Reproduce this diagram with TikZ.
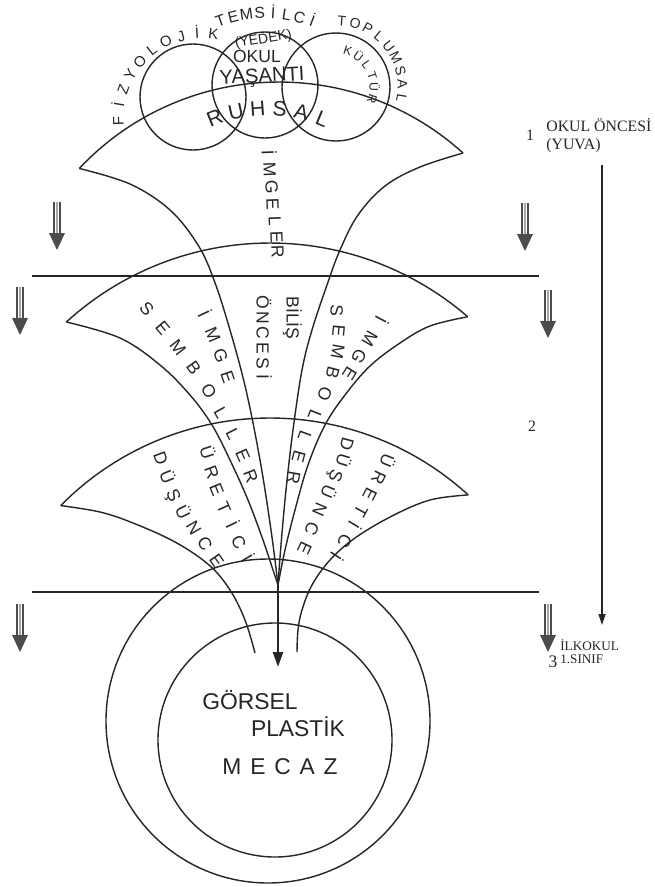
\documentclass[tikz,border=0pt]{standalone}
\usepackage{fontspec}
\setmainfont{Liberation Serif}
\newfontfamily\handfont{Liberation Sans}
\usetikzlibrary{arrows.meta,calc}
\newcommand\arcword[8]{% #1 style, #2 name, #3 cx, #4 cy, #5 R, #6 start, #7 step, #8 letters
  \foreach \ch [count=\i from 0] in {#8}{%
    \pgfmathsetmacro\th{#6+\i*(#7)}%
    \pgfmathsetmacro\rt{-\th-90}%
    \node[#1, rotate=\rt] (#2\i) at ({#3+#5*cos(\th)},{#4+#5*sin(\th)}) {\ch};
  }}
\newcommand\placeletters[3]{% #1 name, #2 style, #3 list x/y/rot/char
  \foreach \px/\py/\pr/\pc [count=\i] in {#3}{%
    \node[#2, rotate=\pr] (#1\i) at (\px,\py) {\pc};
  }}
\newcommand\dblarrow[2]{% #1 x, #2 tip y
  \draw[black!70, line width=0.6pt] (#1-3,#2-48) -- (#1-3,#2-16) (#1+3,#2-48) -- (#1+3,#2-16);
  \draw[black!35, line width=0.6pt] (#1,#2-48) -- (#1,#2-16);
  \fill[black!70] (#1-8,#2-17) -- (#1+8,#2-17) -- (#1,#2) -- cycle;}
\begin{document}
\begin{tikzpicture}[x=0.02cm,y=-0.02cm,
  ln/.style={line width=0.8pt, black!85},
  hand/.style={font=\handfont\fontsize{10}{10}\selectfont, inner sep=0pt, text=black!85, text height=0.72em, text depth=0pt},
  handxs/.style={hand, font=\handfont\fontsize{7}{7}\selectfont},
  handsm/.style={hand, font=\handfont\fontsize{8}{8}\selectfont},
  handfz/.style={hand, font=\handfont\fontsize{8.5}{8.5}\selectfont},
  handmd/.style={hand, font=\handfont\fontsize{9}{9}\selectfont},
  handbig/.style={hand, font=\handfont\fontsize{12}{12}\selectfont},
  handxl/.style={hand, font=\handfont\fontsize{13}{13}\selectfont},
  lab/.style={inner sep=0pt, font=\fontsize{9}{10}\selectfont, text=black!85},
  labsm/.style={inner sep=0pt, font=\fontsize{7.5}{8}\selectfont, text=black!85, anchor=west}]
\fill[white] (0,0) rectangle (655,887);
\useasboundingbox (0,0) rectangle (655,887);

% three top circles
\coordinate (cf) at (193,97);
\coordinate (co) at (265,85);
\coordinate (ct) at (336,87);
\draw[ln] (cf) circle[radius=53];
\draw[ln] (co) circle[radius=53];
\draw[ln] (ct) circle[radius=54];

% cap arcs
\draw[ln] plot[domain=-136.8:-47.8, samples=60] ({279+274*cos(\x)},{356+274*sin(\x)});
\draw[ln] plot[domain=-132.4:-49.1, samples=60] ({270+302*cos(\x)},{545+302*sin(\x)});
\draw[ln] plot[domain=-135.4:-47.6, samples=60] ({270+294*cos(\x)},{712+294*sin(\x)});
\coordinate (c1l) at ({279+274*cos(-136.8)},{356+274*sin(-136.8)});
\coordinate (c1r) at ({279+274*cos(-47.8)},{356+274*sin(-47.8)});
\coordinate (c2l) at ({270+302*cos(-132.4)},{545+302*sin(-132.4)});
\coordinate (c2r) at ({270+302*cos(-49.1)},{545+302*sin(-49.1)});
\coordinate (c3l) at ({270+294*cos(-135.4)},{712+294*sin(-135.4)});
\coordinate (c3r) at ({270+294*cos(-47.6)},{712+294*sin(-47.6)});
\coordinate (conv) at (278,585);
\coordinate (tip) at (278,667);
\coordinate (e3l) at (255,653);
\coordinate (e3r) at (297,652);

% fan sides
\draw[ln] plot[smooth, tension=0.6] coordinates {(c1l) (130,184) (170,210) (198,245) (214,280) (230,330) (246,390) (260,460) (271,530) (conv)};
\draw[ln] plot[smooth, tension=0.6] coordinates {(c1r) (420,167) (385,186) (358,215) (340,250) (327,285) (312,330) (302,370) (293,430) (286,490) (281,545) (conv)};
\draw[ln] plot[smooth, tension=0.6] coordinates {(c2l) (120,338) (160,365) (190,395) (212,425) (230,460) (248,500) (263,540) (273,570) (conv)};
\draw[ln] plot[smooth, tension=0.6] coordinates {(c2r) (430,326) (400,343) (370,366) (345,395) (325,425) (308,465) (295,510) (285,550) (conv)};
\draw[ln] plot[smooth, tension=0.6] coordinates {(c3l) (100,512) (133,523) (175,542) (209,565) (230,590) (245,620) (e3l)};
\draw[ln] plot[smooth, tension=0.6] coordinates {(c3r) (430,500) (392,516) (355,538) (330,560) (312,585) (302,610) (298,630) (e3r)};
\draw[ln, line width=1.2pt, -{Triangle[length=0.3cm,width=0.2cm]}] (conv) -- (tip);

% horizontal lines
\coordinate (h1a) at (32,276); \coordinate (h1b) at (539,276);
\coordinate (h2a) at (32,592); \coordinate (h2b) at (539,592);
\draw[ln] (h1a) -- (h1b);
\draw[ln] (h2a) -- (h2b);

% bottom circles
\coordinate (cb) at (268,721);
\coordinate (ci) at (275,740);
\draw[ln] (cb) circle[radius=162];
\draw[ln] (ci) circle[radius=117];

% double arrows
\dblarrow{57}{250}
\dblarrow{525}{251}
\dblarrow{20}{335}
\dblarrow{548}{338}
\dblarrow{20}{652}
\dblarrow{548}{652}

% vertical arrow on the right
\coordinate (vtop) at (602,165);
\coordinate (vbot) at (602,625);
\draw[line width=0.7pt, black!85, -{Triangle[length=0.22cm,width=0.14cm]}] (vtop) -- (vbot);

% right labels
\node[lab] (n1) at (530,135) {1};
\node[lab, anchor=west] (okul) at (546,125) {OKUL ÖNCESİ};
\node[lab, anchor=west] (yuva) at (546,146) {(YUVA)};
\node[lab] (n2) at (532,426) {2};
\node[lab, font=\fontsize{10}{10}\selectfont] (n3) at (553,662) {3};
\node[labsm] (ilk) at (560,645) {İLKOKUL};
\node[labsm] (sinif) at (560,659) {1.SINIF};

% top texts
\arcword{handfz}{fz}{203}{118}{86}{178}{11}{F,İ,Z,Y,O,L,O,J,İ,K}
\arcword{handmd}{tm}{265}{150}{138}{-109}{5.6}{T,E,M,S,İ,L,C,İ}
\arcword{handsm}{tp}{336}{87}{68}{-85}{11.8}{T,O,P,L,U,M,S,A,L}
\arcword{handxs}{kt}{336}{87}{40}{-72}{18}{K,Ü,L,T,Ü,R}
\arcword{handbig}{rh}{268}{250}{141}{-112}{8.9}{R,U,H,S,A,L}
\node[hand, font=\handfont\fontsize{8}{8}\selectfont, rotate=9] (yedek) at (263,37) {(YEDEK)};
\node[hand] (okl) at (257,56) {OKUL};
\node[hand, font=\handfont\fontsize{11.5}{11.5}\selectfont, rotate=3] (yas) at (262,76) {YAŞANTI};

% İMGELER (cap 1)
\placeletters{im}{hand}{268/153/-88/İ, 270/170/-88/M, 272/187/-88/G, 273/204/-88/E, 275/221/-88/L, 277/237/-88/E, 278/252/-88/R}

% cap 2
\node[hand, rotate=-90] (bil) at (293,318) {BİLİŞ};
\placeletters{on}{hand}{263/302/-90/Ö, 263/318/-90/N, 263/333/-90/C, 263/348/-90/E, 263/363/-90/S, 263/377/-90/İ}
\placeletters{sl}{hand}{147/309/-48/S, 163/328/-50/E, 178/347/-52/M, 194/368/-55/B, 209/391/-58/O, 221/413/-61/L, 233/434/-63/L, 243/455/-66/E, 251/476/-69/R}
\placeletters{il}{hand}{204/314/-65/İ, 213/335/-67/M, 221/356/-69/G, 228/377/-71/E}
\placeletters{sr}{hand}{337/311/-92/S, 339/331/-95/E, 338/352/-100/M, 333/373/-105/B, 325/394/-110/O, 315/415/-112/L, 305/436/-110/L, 299/457/-105/E, 294/478/-100/R}
\placeletters{ir}{hand}{381/320/-118/İ, 370/339/-120/M, 359/357/-122/G, 350/374/-122/E}

% cap 3
\placeletters{ul}{hand}{207/453/-72/Ü, 212/472/-70/R, 217/490/-68/E, 224/508/-66/T, 232/525/-64/İ, 239/542/-62/C, 247/558/-60/İ}
\placeletters{dl}{hand}{161/458/-70/D, 167/477/-68/Ü, 174/495/-66/Ş, 183/512/-63/Ü, 194/528/-60/N, 205/544/-58/C, 217/561/-55/E}
\placeletters{ur}{hand}{387/461/-112/Ü, 379/478/-115/R, 370/495/-117/E, 361/511/-119/T, 354/525/-121/İ, 345/541/-122/C, 336/556/-123/İ}
\placeletters{dr}{hand}{347/444/-105/D, 343/460/-107/Ü, 336/476/-110/Ş, 328/492/-112/Ü, 320/510/-113/N, 312/529/-114/C, 305/548/-115/E}

% inner circle texts
\node[handxl] (gor) at (250,703) {GÖRSEL};
\node[handxl] (pla) at (298,730) {PLASTİK};
\node[handxl] (mec) at (280,768) {M\kern5pt E\kern5pt C\kern5pt A\kern5pt Z};
\end{tikzpicture}
\end{document}
